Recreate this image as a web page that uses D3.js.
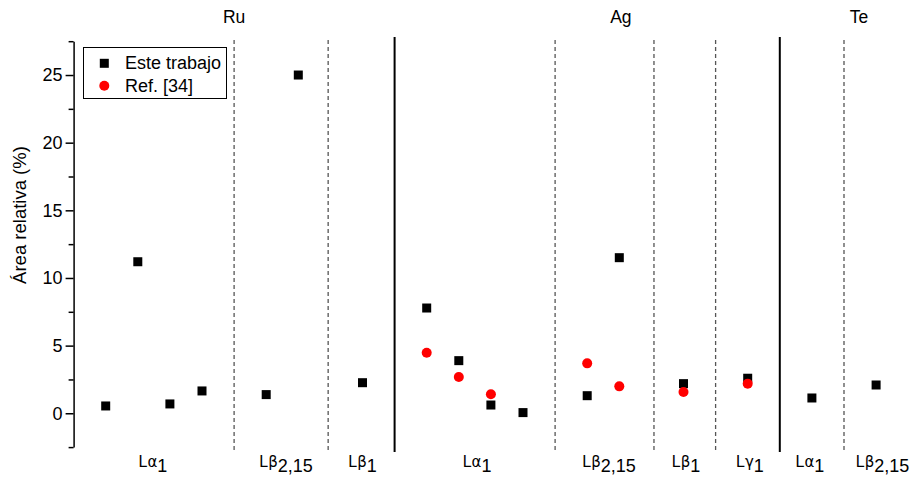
<!DOCTYPE html>
<html>
<head>
<meta charset="utf-8">
<script src="https://cdn.jsdelivr.net/npm/d3@7"></script>
<style>
  html, body { margin: 0; padding: 0; background: #fff; }
  svg { display: block; font-family: "Liberation Sans", Arial, sans-serif; }
</style>
</head>
<body>
<svg id="chart" width="914" height="480"></svg>
<script>
// Measured peak areas (%), placed by slot index along the horizontal axis
const thisWorkX = [1, 2, 3, 4, 6, 7, 9, 11, 12, 13, 14, 16, 17, 19, 21, 23, 25];
const thisWorkY = [0.54, 11.2, 0.69, 1.65, 1.38, 25.0, 2.26, 7.78, 3.89, 0.61, 0.05, 1.30, 11.5, 2.19, 2.59, 1.13, 2.09];
const refX = [11, 12, 13, 16, 17, 19, 21];
const refY = [4.48, 2.68, 1.40, 3.69, 1.99, 1.57, 2.19];

// Element headings and emission-line group labels
const elements = ["Ru", "Ag", "Te"];
const elementPos = [5.0, 17.05, 24.47];
const lineNames = ["Lα", "Lβ", "Lβ", "Lα", "Lβ", "Lβ", "Lγ", "Lα", "Lβ"];
const lineSubs = ["1", "2,15", "1", "1", "2,15", "1", "1", "1", "2,15"];
const linePos = [2.47, 6.62, 9.0, 12.57, 16.68, 19.08, 21.07, 22.94, 25.2];

// Group separators
const dashedDividers = [5, 7.93, 15, 18.08, 20, 24];
const solidDividers = [10, 22];

const majorTicks = [0, 5, 10, 15, 20, 25];
const minorTicks = [-2.5, 2.5, 7.5, 12.5, 17.5, 22.5, 27.5];

const svg = d3.select("#chart");

const x = d3.scaleLinear().domain([0, 26]).range([73.6, 73.6 + 32.1 * 26]);
const y = d3.scaleLinear().domain([-2.5, 27.5]).range([447.1, 41.2]);

// Separators
svg.append("g").selectAll("line").data(dashedDividers).join("line")
  .attr("x1", d => x(d)).attr("x2", d => x(d))
  .attr("y1", 40).attr("y2", 450)
  .attr("stroke", "#555").attr("stroke-width", 1.3)
  .attr("stroke-dasharray", "4,3");

svg.append("g").selectAll("line").data(solidDividers).join("line")
  .attr("x1", d => x(d)).attr("x2", d => x(d))
  .attr("y1", 37).attr("y2", 452)
  .attr("stroke", "#000").attr("stroke-width", 2);

// Y axis
const axisG = svg.append("g").attr("transform", `translate(${x(0)},0)`);
axisG.call(d3.axisLeft(y).tickValues(majorTicks).tickSize(8).tickSizeOuter(0).tickPadding(3))
  .call(g => g.select(".domain").attr("stroke-width", 1.5))
  .call(g => g.selectAll(".tick line").attr("stroke-width", 1.5))
  .call(g => g.selectAll(".tick text")
    .attr("font-size", 18).attr("fill", "#000")
    .attr("font-family", "Liberation Sans, Arial, sans-serif"));

axisG.append("g")
  .call(d3.axisLeft(y).tickValues(minorTicks).tickSize(5).tickSizeOuter(0).tickFormat(""))
  .call(g => g.select(".domain").remove())
  .call(g => g.selectAll(".tick line").attr("stroke-width", 1.5));

svg.append("text")
  .attr("transform", "translate(26,215) rotate(-90)")
  .attr("text-anchor", "middle")
  .attr("font-size", 18.5)
  .text("Área relativa (%)");

// Element headings
svg.append("g").selectAll("text").data(elements).join("text")
  .attr("x", (d, i) => x(elementPos[i]))
  .attr("y", 23)
  .attr("text-anchor", "middle")
  .attr("font-size", 17.5)
  .text(d => d);

// Emission-line labels: "L", Greek letter, subscript
const lbl = svg.append("g").selectAll("text").data(lineNames).join("text")
  .attr("x", (d, i) => x(linePos[i]))
  .attr("y", 467)
  .attr("text-anchor", "middle")
  .attr("font-size", 16);
lbl.append("tspan").text(d => d.slice(0, 1));
lbl.append("tspan")
  .attr("font-family", "DejaVu Sans, sans-serif")
  .attr("font-size", 15)
  .text(d => d.slice(1));
lbl.append("tspan")
  .attr("font-size", 18)
  .attr("dy", 5)
  .text((d, i) => lineSubs[i]);

// Data marks
const sq = 9;
svg.append("g").selectAll("rect").data(thisWorkY).join("rect")
  .attr("x", (d, i) => x(thisWorkX[i]) - sq / 2)
  .attr("y", d => y(d) - sq / 2)
  .attr("width", sq).attr("height", sq)
  .attr("fill", "#000");

svg.append("g").selectAll("circle").data(refY).join("circle")
  .attr("cx", (d, i) => x(refX[i]))
  .attr("cy", d => y(d))
  .attr("r", 5)
  .attr("fill", "#ff0000");

// Legend
const leg = svg.append("g");
leg.append("rect")
  .attr("x", 83.5).attr("y", 47.5).attr("width", 143).attr("height", 51)
  .attr("fill", "#fff").attr("stroke", "#000").attr("stroke-width", 1);
leg.append("rect")
  .attr("x", 104.3 - sq / 2).attr("y", 63.3 - sq / 2)
  .attr("width", sq).attr("height", sq).attr("fill", "#000");
leg.append("circle")
  .attr("cx", 104.3).attr("cy", 85.7).attr("r", 5).attr("fill", "#ff0000");
leg.append("text").attr("x", 125).attr("y", 69).attr("font-size", 18).text("Este trabajo");
leg.append("text").attr("x", 125).attr("y", 92).attr("font-size", 18).text("Ref. [34]");
</script>
</body>
</html>
